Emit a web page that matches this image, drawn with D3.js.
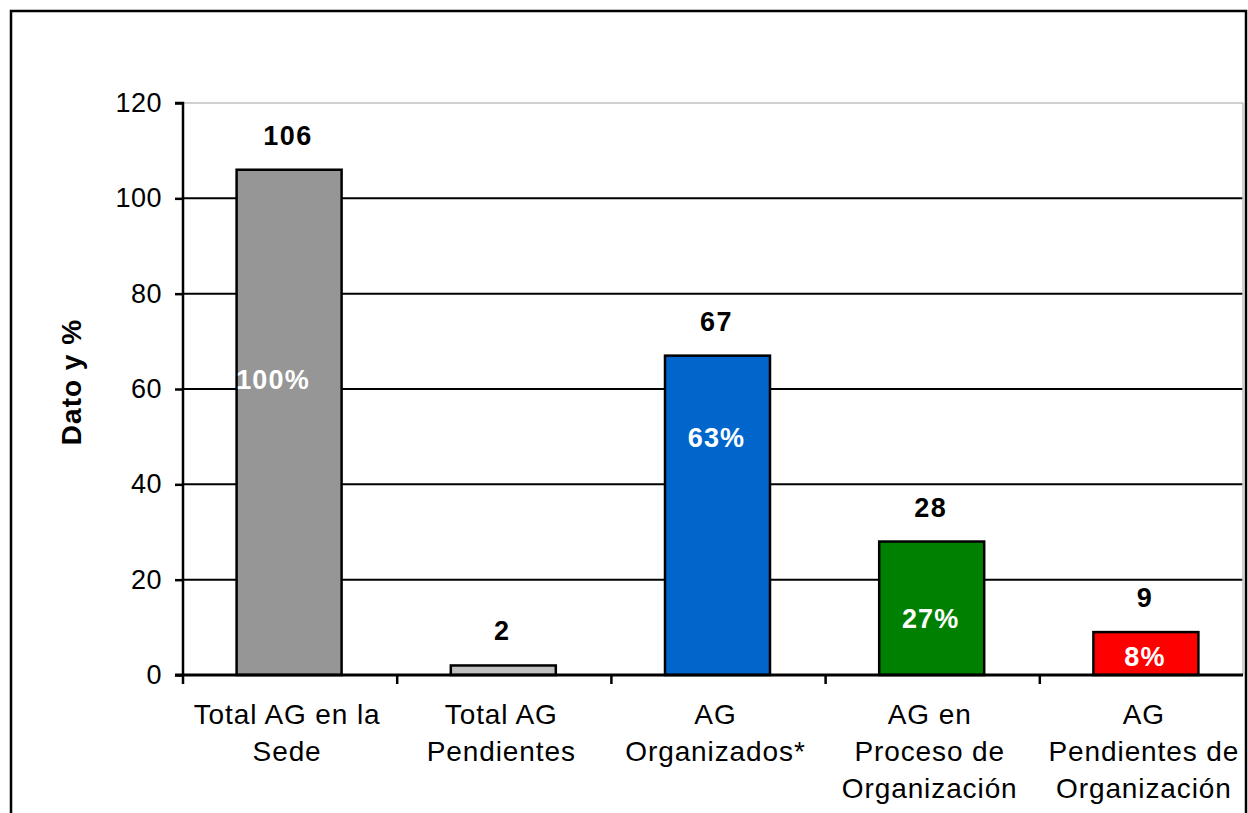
<!DOCTYPE html>
<html>
<head>
<meta charset="utf-8">
<script src="https://cdn.jsdelivr.net/npm/d3@7"></script>
<style>
	body { margin: 0; background: #fff; }
	svg { display: block; font-family: "Liberation Sans", Arial, sans-serif; }
</style>
</head>
<body>
<svg id="chart" width="1248" height="813"></svg>
<script>
// data
var categories = [
	['Total AG en la', 'Sede'],
	['Total AG', 'Pendientes'],
	['AG', 'Organizados*'],
	['AG en', 'Proceso de', 'Organización'],
	['AG', 'Pendientes de', 'Organización']
];
var values = [106, 2, 67, 28, 9];
var percents = ['100%', '', '63%', '27%', '8%'];
var percentAt = [62, 0, 50, 12, 4]; // where the % label sits, in axis units
var colors = ['#969696', '#c0c0c0', '#0066cc', '#008000', '#ff0000'];
var yTicks = [0, 20, 40, 60, 80, 100, 120];

var svg = d3.select('#chart');
var plotLeft = 183, plotTop = 103, plotBottom = 675, plotRight = 1254, gridEnd = 1243;

// outer frame (cut off at the bottom in the original)
svg.append('path')
	.attr('d', 'M11,813 V11 H1246 V813')
	.attr('fill', 'none')
	.attr('stroke', '#000')
	.attr('stroke-width', 2.5);

var x = d3.scaleBand()
	.domain(d3.range(values.length))
	.range([plotLeft, plotRight])
	.paddingInner(0)
	.paddingOuter(0);

var y = d3.scaleLinear()
	.domain([0, 120])
	.range([plotBottom, plotTop]);

// gridlines
svg.append('g').selectAll('line')
	.data(yTicks.filter(function(d) {return d > 0}))
	.enter().append('line')
		.attr('x1', plotLeft)
		.attr('x2', gridEnd)
		.attr('y1', function(d) {return y(d)})
		.attr('y2', function(d) {return y(d)})
		.attr('stroke', function(d) {return d == 120 ? '#c0c0c0' : '#000'})
		.attr('stroke-width', function(d) {return d == 120 ? 1.5 : 2});

svg.append('line')
	.attr('x1', gridEnd).attr('x2', gridEnd)
	.attr('y1', plotTop).attr('y2', plotBottom)
	.attr('stroke', '#c0c0c0').attr('stroke-width', 1.5);

// bars
var band = x.bandwidth();
var barW = 105;
svg.append('g').selectAll('rect')
	.data(values)
	.enter().append('rect')
		.attr('x', function(d, i) {return x(i) + band / 2 - barW / 2 - 1})
		.attr('y', function(d) {return y(d)})
		.attr('width', barW)
		.attr('height', function(d) {return plotBottom - y(d)})
		.attr('fill', function(d, i) {return colors[i]})
		.attr('stroke', '#000')
		.attr('stroke-width', 2.5);

// y axis
var yAxis = svg.append('g')
	.attr('transform', 'translate(' + plotLeft + ',0)')
	.call(d3.axisLeft(y).tickValues(yTicks).tickSize(8).tickPadding(13));
yAxis.select('.domain').attr('stroke-width', 2.5).attr('d', 'M-8,' + plotTop + 'H0V' + plotBottom);
yAxis.selectAll('.tick line').attr('stroke-width', 2.5);
yAxis.selectAll('.tick text')
	.attr('font-size', 27)
	.attr('letter-spacing', 0.5)
	.attr('font-family', '"Liberation Sans", Arial, sans-serif')
	.attr('fill', '#000');

// x axis
svg.append('line')
	.attr('x1', plotLeft - 8).attr('x2', gridEnd)
	.attr('y1', plotBottom).attr('y2', plotBottom)
	.attr('stroke', '#000').attr('stroke-width', 3);

svg.append('g').selectAll('line')
	.data(d3.range(values.length + 1))
	.enter().append('line')
		.attr('x1', function(i) {return plotLeft + i * band})
		.attr('x2', function(i) {return plotLeft + i * band})
		.attr('y1', plotBottom)
		.attr('y2', plotBottom + 9)
		.attr('stroke', '#000')
		.attr('stroke-width', 2.5);

var xLabels = svg.append('g').selectAll('text')
	.data(categories)
	.enter().append('text')
		.attr('text-anchor', 'middle')
		.attr('font-size', 28)
		.attr('letter-spacing', 0.9)
		.attr('fill', '#000');
xLabels.selectAll('tspan')
	.data(function(d, i) {return d.map(function(s) {return {s: s, i: i}})})
	.enter().append('tspan')
		.attr('x', function(d) {return x(d.i) + band / 2 - 3})
		.attr('y', function(d, j) {return 724 + j * 37})
		.text(function(d) {return d.s});

// value labels
svg.append('g').selectAll('text')
	.data(values)
	.enter().append('text')
		.attr('x', function(d, i) {return x(i) + band / 2 - 2})
		.attr('y', function(d) {return y(d) - 25})
		.attr('text-anchor', 'middle')
		.attr('font-size', 27)
		.attr('font-weight', 'bold')
		.attr('letter-spacing', 1.5)
		.text(function(d) {return d});

// percent labels inside the bars
svg.append('g').selectAll('text')
	.data(percents)
	.enter().append('text')
		.attr('x', function(d, i) {return x(i) + band / 2 - (i == 0 ? 17 : 2)})
		.attr('y', function(d, i) {return y(percentAt[i]) + 10})
		.attr('text-anchor', 'middle')
		.attr('font-size', 27)
		.attr('font-weight', 'bold')
		.attr('letter-spacing', 1.2)
		.attr('fill', '#fff')
		.text(function(d) {return d});

// y title
svg.append('text')
	.attr('transform', 'translate(81,382) rotate(-90)')
	.attr('text-anchor', 'middle')
	.attr('font-size', 28)
	.attr('font-weight', 'bold')
	.attr('letter-spacing', 1)
	.text('Dato y %');
</script>
</body>
</html>
